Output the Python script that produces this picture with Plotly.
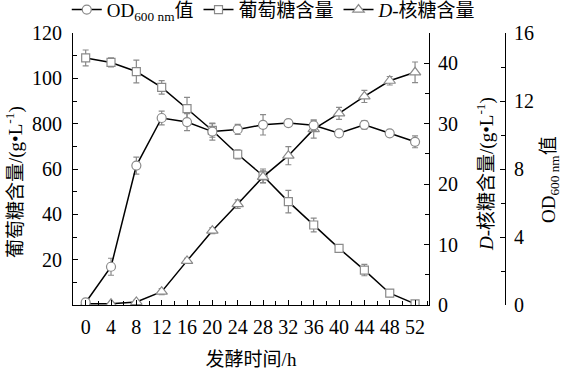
import plotly.graph_objects as go

time_h = [0, 4, 8, 12, 16, 20, 24, 28, 32, 36, 40, 44, 48, 52]
glucose = [109, 107, 103, 96, 86.6, 77, 66.5, 57, 45.6, 35.3, 25, 15.4, 5.2, 0.5]
glucose_err = [3.5, 2, 5, 3, 5, 3, 2, 3, 5, 3, 1.5, 2.5, 1.5, 0.5]
od600 = [0.15, 2.25, 8.2, 11.0, 10.76, 10.2, 10.33, 10.6, 10.7, 10.57, 10.1, 10.6, 10.1, 9.6]
od600_err = [0.1, 0.5, 0.5, 0.4, 0.5, 0.5, 0.3, 0.6, 0.2, 0.3, 0.15, 0.25, 0.1, 0.35]
ribose = [0.2, 0.2, 0.5, 2.2, 7.3, 12.3, 16.7, 21.2, 24.7, 29.1, 31.7, 34.5, 37.1, 38.5]
ribose_err = [0.2, 0.2, 0.3, 0.5, 0.4, 0.5, 0.7, 1.0, 1.5, 1.5, 1.0, 1.0, 0.7, 1.7]

left_ticks = [20, 40, 60, 80, 100, 120]
left_ticktext = ["20", "40", "60", "800", "100", "120"]
x_ticks = list(range(0, 53, 4))

FONT = "Liberation Serif, Times New Roman, Noto Sans CJK SC, serif"
GRAY = "#8a8a8a"
FS = 20
TFS = 19

def trace(x, y, err, yaxis, name, symbol, size):
    return go.Scatter(
        x=x, y=y, yaxis=yaxis, name=name, mode="lines+markers",
        line=dict(color="black", width=1.5),
        marker=dict(symbol=symbol, size=size, color="white",
                    line=dict(color=GRAY, width=1.2)),
        error_y=dict(type="data", array=err, visible=True, color=GRAY,
                     thickness=1.2, width=3),
    )

fig = go.Figure()
fig.add_trace(trace(time_h, od600, od600_err, "y3", "OD<sub>600 nm</sub>值", "circle", 9))
fig.add_trace(trace(time_h, glucose, glucose_err, "y", "葡萄糖含量", "square", 8))
fig.add_trace(trace(time_h, ribose, ribose_err, "y2", "<i>D</i>-核糖含量", "triangle-up", 10))

x0, x1 = 73 / 561, 429 / 561
y0, y1 = (370 - 305) / 370, (370 - 33) / 370

axis_common = dict(showline=True, linecolor="black", linewidth=1.2,
                   ticks="inside", ticklen=5, tickcolor="black", tickwidth=1.2,
                   showgrid=False, zeroline=False, automargin=False,
                   tickfont=dict(family=FONT, size=FS, color="black"))

def minor(d):
    return dict(dtick=d, tick0=0, ticks="inside", ticklen=4, tickcolor="black", tickwidth=1.2)

def ytitle(text, px, py):
    return dict(text=text, xref="paper", yref="paper", x=px / 561, y=(370 - py) / 370,
                xanchor="center", yanchor="middle", textangle=-90, showarrow=False,
                font=dict(family=FONT, size=TFS, color="black"))

fig.update_layout(
    width=561, height=370,
    margin=dict(l=0, r=0, t=0, b=0, autoexpand=False),
    paper_bgcolor="white", plot_bgcolor="white",
    font=dict(family=FONT, size=FS, color="black"),
    showlegend=True,
    legend=dict(orientation="h", x=0.488, xanchor="center", y=1.025, yanchor="top",
                font=dict(family=FONT, size=19), itemwidth=30,
                bgcolor="rgba(0,0,0,0)", tracegroupgap=0),
    xaxis=dict(domain=[x0, x1], range=[-2, 54.2], tickvals=x_ticks, minor=minor(2),
               ticklabelstandoff=4,
               title=dict(text="发酵时间/h", font=dict(family=FONT, size=TFS), standoff=16),
               anchor="y", **axis_common),
    yaxis=dict(domain=[y0, y1], range=[0, 120], tickvals=left_ticks, ticktext=left_ticktext,
               minor=minor(10), ticklabelstandoff=6, anchor="x", **axis_common),
    yaxis2=dict(domain=[y0, y1], range=[0, 45], tickvals=[0, 10, 20, 30, 40],
                minor=minor(5), ticklabelstandoff=4,
                overlaying="y", side="right", anchor="x", **axis_common),
    yaxis3=dict(domain=[y0, y1], range=[0, 16], tickvals=[0, 4, 8, 12, 16],
                minor=minor(2), ticklabelstandoff=4,
                overlaying="y", side="right", anchor="free", position=505 / 561, **axis_common),
    annotations=[
        ytitle("葡萄糖含量/(g•L<sup>-1</sup>)", 14, 182),
        ytitle("<i>D</i>-核糖含量/(g•L<sup>-1</sup>)", 485, 174),
        ytitle("OD<sub>600 nm</sub>值", 550, 180),
    ],
)

fig.write_html("out.html")
